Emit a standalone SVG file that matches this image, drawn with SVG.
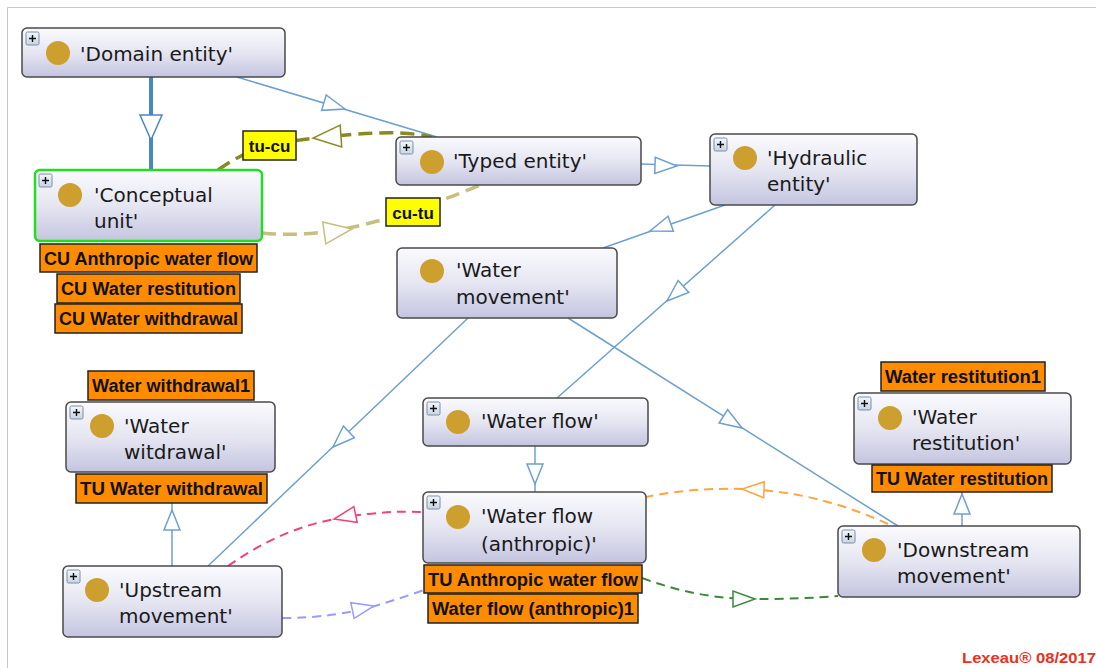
<svg xmlns="http://www.w3.org/2000/svg" xmlns:xlink="http://www.w3.org/1999/xlink" width="1096" height="668" viewBox="0 0 1096 668">
<style>
.node rect.box{fill:url(#ng);stroke:#4a4a4a;stroke-width:1.5}
.node rect.sel{stroke:#22dd22;stroke-width:2.5}
.dot{fill:#cd9f2f}
.pb{fill:url(#pg);stroke:#7890a8;stroke-width:1}
.pl{stroke:#111;stroke-width:1.4}
.nt{font-family:"DejaVu Sans",sans-serif;font-size:20px;fill:#1a1a1a}
.lb rect{fill:#ff8c00;stroke:#222;stroke-width:1.5}
.lb text{font-family:"Liberation Sans",Arial,sans-serif;font-weight:bold;font-size:18px;fill:#111}
.yl rect{fill:#ffff00;stroke:#222;stroke-width:1.5}
.yl text{font-family:"Liberation Sans",Arial,sans-serif;font-weight:bold;font-size:17px;fill:#111}
.e{fill:none;stroke:#6ea0cf;stroke-width:1.5}
.ah{fill:#fff;stroke:#6ea0cf;stroke-width:1.5}
.d{fill:none;stroke-width:2;stroke-dasharray:9 6}
.dk{fill:none;stroke-width:3.5;stroke-dasharray:14 7}
</style>
<defs>
<linearGradient id="ng" x1="0" y1="0" x2="0" y2="1">
<stop offset="0" stop-color="#fafafe"/>
<stop offset="0.5" stop-color="#e6e6f2"/>
<stop offset="1" stop-color="#c4c4e0"/>
</linearGradient>
<linearGradient id="pg" x1="0" y1="0" x2="0" y2="1">
<stop offset="0" stop-color="#f4f8fc"/>
<stop offset="1" stop-color="#c8d4e2"/>
</linearGradient>
<path id="tri" d="M0,0 L-22,-8 L-22,8 Z"/>
<path id="triB" d="M0,0 L-25,-11 L-25,11 Z"/>
<path id="triS" d="M0,0 L-20,-8 L-20,8 Z"/>
<path id="triL" d="M0,0 L-28,-11 L-28,11 Z"/>
<g id="plus"><rect class="pb" x="0" y="0" width="13" height="13" rx="1.5"/><path class="pl" d="M3,6.5 H10 M6.5,3 V10"/></g>
</defs>
<rect x="0" y="0" width="1096" height="668" fill="#fff"/>
<path d="M7.5,680 V7.5 H1100" fill="none" stroke="#c8c8c8" stroke-width="1"/>

<g id="connectors">
<line x1="151" y1="77" x2="151" y2="170" stroke="#4a86c0" stroke-width="4"/>
<use href="#triB" transform="translate(151,140) rotate(90)" fill="#fff" stroke="#4a86c0" stroke-width="1.5"/>
<line class="e" x1="237" y1="77" x2="437" y2="137"/>
<use class="ah" href="#tri" transform="translate(345,109) rotate(16.7)"/>
<line class="e" x1="641" y1="164" x2="710" y2="166"/>
<use class="ah" href="#tri" transform="translate(677,166) rotate(1.7)"/>
<line class="e" x1="725" y1="205" x2="603" y2="248"/>
<use class="ah" href="#tri" transform="translate(650,231) rotate(160.6)"/>
<line class="e" x1="775" y1="205" x2="557" y2="398"/>
<use class="ah" href="#tri" transform="translate(667,301) rotate(138.5)"/>
<line class="e" x1="468" y1="318" x2="208" y2="566"/>
<use class="ah" href="#tri" transform="translate(333,447) rotate(136.4)"/>
<line class="e" x1="568" y1="318" x2="898" y2="526"/>
<use class="ah" href="#tri" transform="translate(742,428) rotate(32.2)"/>
<line class="e" x1="535" y1="446" x2="535" y2="492"/>
<use class="ah" href="#triS" transform="translate(535,484) rotate(90)"/>
<line class="e" x1="172" y1="566" x2="172" y2="503"/>
<use class="ah" href="#triS" transform="translate(172,510) rotate(-90)"/>
<line class="e" x1="962" y1="526" x2="962" y2="492"/>
<use class="ah" href="#triS" transform="translate(962,494) rotate(-90)"/>

<path class="dk" stroke="#8a8a22" d="M218,170 C245,150 275,142 300,140 C330,136 370,132 400,133 C415,134 425,135 432,137"/>
<use href="#triL" transform="translate(313,138) rotate(176)" fill="#fff" stroke="#8a8a22" stroke-width="1.5"/>
<path class="dk" stroke="#c6bf80" d="M262,233 C300,237 340,232 385,219 C420,208 455,196 480,185"/>
<use href="#triL" transform="translate(352,229) rotate(-8)" fill="#fff" stroke="#c6bf80" stroke-width="1.5"/>
<path class="d" stroke="#f5407e" stroke-width="1.5" d="M228,566 C265,540 300,525 340,518 C375,512 400,511 423,512"/>
<use href="#tri" transform="translate(334,519) rotate(168)" fill="#fff" stroke="#f5407e" stroke-width="1.5"/>
<path class="d" stroke="#9a9aff" d="M282,618 C320,618 350,613 375,606 C395,600 410,595 424,590"/>
<use href="#tri" transform="translate(374,606) rotate(-12)" fill="#fff" stroke="#9a9aff" stroke-width="1.5"/>
<path class="d" stroke="#ffa440" d="M888,524 C840,502 790,490 742,489 C700,488 670,492 646,497"/>
<use href="#tri" transform="translate(742,489) rotate(182)" fill="#fff" stroke="#ffa440" stroke-width="1.5"/>
<path class="d" stroke="#3a8a3a" d="M642,578 C680,592 715,599 755,599 C790,599 815,598 838,596"/>
<use href="#tri" transform="translate(755,599) rotate(0)" fill="#fff" stroke="#3a8a3a" stroke-width="1.5"/>
</g>

<g id="n-domain-entity" class="node">
<rect class="box" x="22" y="28" width="263" height="49" rx="5"/>
<use href="#plus" x="26" y="32"/>
<circle class="dot" cx="58" cy="53" r="12"/>
<text class="nt" x="80" y="61">'Domain entity'</text>
</g>

<g id="n-conceptual-unit" class="node">
<rect class="box sel" x="35" y="170" width="227" height="71" rx="5"/>
<use href="#plus" x="39" y="174"/>
<circle class="dot" cx="70" cy="195" r="12"/>
<text class="nt" x="94" y="202">'Conceptual</text>
<text class="nt" x="94" y="228">unit'</text>
</g>
<g id="l-cu" class="lb">
<rect x="40" y="244" width="217" height="28"/>
<text x="148.5" y="265" text-anchor="middle" textLength="209" lengthAdjust="spacingAndGlyphs">CU Anthropic water flow</text>
<rect x="57" y="274" width="183" height="29"/>
<text x="148.5" y="295" text-anchor="middle" textLength="175" lengthAdjust="spacingAndGlyphs">CU Water restitution</text>
<rect x="55" y="304" width="187" height="29"/>
<text x="148.5" y="325" text-anchor="middle" textLength="179" lengthAdjust="spacingAndGlyphs">CU Water withdrawal</text>
</g>

<g id="n-typed-entity" class="node">
<rect class="box" x="396" y="137" width="245" height="48" rx="5"/>
<use href="#plus" x="400" y="141"/>
<circle class="dot" cx="432" cy="162" r="12"/>
<text class="nt" x="453" y="168">'Typed entity'</text>
</g>

<g id="tag-tu-cu" class="yl">
<rect x="243" y="131" width="53" height="29"/>
<text x="269.5" y="152" text-anchor="middle">tu-cu</text>
</g>
<g id="tag-cu-tu" class="yl">
<rect x="386" y="198" width="54" height="28"/>
<text x="413" y="219" text-anchor="middle">cu-tu</text>
</g>

<g id="n-hydraulic-entity" class="node">
<rect class="box" x="710" y="134" width="207" height="71" rx="5"/>
<use href="#plus" x="714" y="138"/>
<circle class="dot" cx="745" cy="158" r="12"/>
<text class="nt" x="767" y="165">'Hydraulic</text>
<text class="nt" x="767" y="191">entity'</text>
</g>

<g id="n-water-movement" class="node">
<rect class="box" x="397" y="248" width="220" height="70" rx="5"/>
<circle class="dot" cx="432" cy="271" r="12"/>
<text class="nt" x="456" y="277">'Water</text>
<text class="nt" x="456" y="304">movement'</text>
</g>

<g id="n-water-withdrawal" class="node">
<g class="lb">
<rect x="88" y="371" width="166" height="29"/>
<text x="171" y="392" text-anchor="middle" textLength="158" lengthAdjust="spacingAndGlyphs">Water withdrawal1</text>
</g>
<rect class="box" x="66" y="402" width="209" height="70" rx="5"/>
<use href="#plus" x="70" y="406"/>
<circle class="dot" cx="102" cy="426" r="12"/>
<text class="nt" x="124" y="433">'Water</text>
<text class="nt" x="124" y="459">witdrawal'</text>
<g class="lb">
<rect x="76" y="474" width="191" height="29"/>
<text x="171.5" y="495" text-anchor="middle" textLength="183" lengthAdjust="spacingAndGlyphs">TU Water withdrawal</text>
</g>
</g>

<g id="n-upstream-movement" class="node">
<rect class="box" x="63" y="566" width="219" height="71" rx="5"/>
<use href="#plus" x="67" y="570"/>
<circle class="dot" cx="97" cy="590" r="12"/>
<text class="nt" x="119" y="597">'Upstream</text>
<text class="nt" x="119" y="623">movement'</text>
</g>

<g id="n-water-flow" class="node">
<rect class="box" x="423" y="398" width="225" height="48" rx="5"/>
<use href="#plus" x="427" y="402"/>
<circle class="dot" cx="458" cy="422" r="12"/>
<text class="nt" x="481" y="428">'Water flow'</text>
</g>

<g id="n-water-flow-anthropic" class="node">
<rect class="box" x="423" y="492" width="223" height="71" rx="5"/>
<use href="#plus" x="427" y="496"/>
<circle class="dot" cx="458" cy="517" r="12"/>
<text class="nt" x="481" y="523">'Water flow</text>
<text class="nt" x="481" y="551">(anthropic)'</text>
<g class="lb">
<rect x="424" y="565" width="218" height="28"/>
<text x="533" y="586" text-anchor="middle" textLength="210" lengthAdjust="spacingAndGlyphs">TU Anthropic water flow</text>
<rect x="428" y="594" width="210" height="29"/>
<text x="533" y="615" text-anchor="middle" textLength="202" lengthAdjust="spacingAndGlyphs">Water flow (anthropic)1</text>
</g>
</g>

<g id="n-water-restitution" class="node">
<g class="lb">
<rect x="881" y="362" width="164" height="29"/>
<text x="963" y="383" text-anchor="middle" textLength="156" lengthAdjust="spacingAndGlyphs">Water restitution1</text>
</g>
<rect class="box" x="854" y="393" width="217" height="71" rx="5"/>
<use href="#plus" x="858" y="397"/>
<circle class="dot" cx="890" cy="418" r="12"/>
<text class="nt" x="912" y="424">'Water</text>
<text class="nt" x="912" y="450">restitution'</text>
<g class="lb">
<rect x="872" y="465" width="180" height="27"/>
<text x="962" y="485" text-anchor="middle" textLength="172" lengthAdjust="spacingAndGlyphs">TU Water restitution</text>
</g>
</g>

<g id="n-downstream-movement" class="node">
<rect class="box" x="838" y="526" width="242" height="71" rx="5"/>
<use href="#plus" x="842" y="530"/>
<circle class="dot" cx="874" cy="550" r="12"/>
<text class="nt" x="897" y="557">'Downstream</text>
<text class="nt" x="897" y="583">movement'</text>
</g>

<text x="1096" y="663" text-anchor="end" font-family="Liberation Sans, Arial, sans-serif" font-weight="bold" font-size="15" fill="#e8321e" textLength="134" lengthAdjust="spacingAndGlyphs">Lexeau® 08/2017</text>
</svg>
